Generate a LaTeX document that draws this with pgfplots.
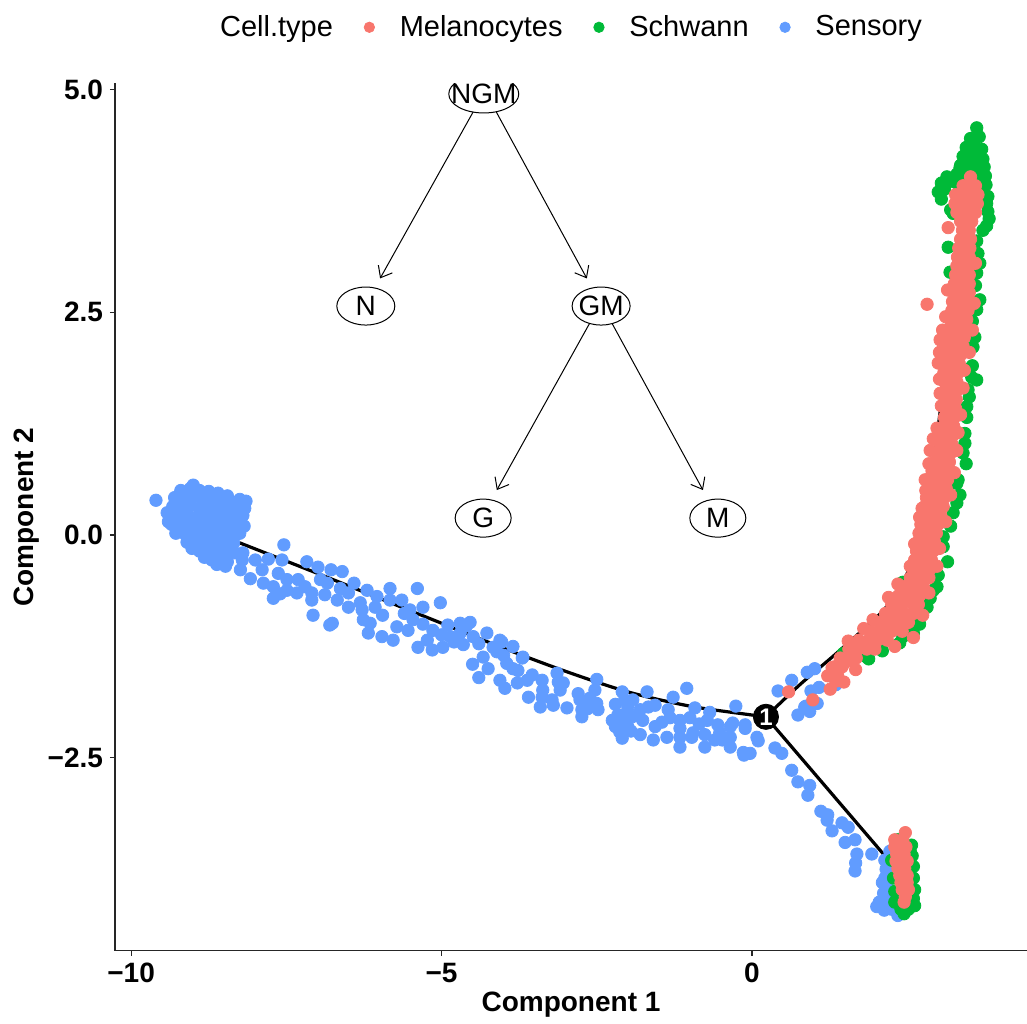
\documentclass[border=0pt]{standalone}
\usepackage{pgfplots}
\pgfplotsset{compat=1.18}
\usepackage{fontspec}
\setmainfont{Liberation Sans}
\usetikzlibrary{arrows.meta}
\definecolor{melcol}{HTML}{F8766D}
\definecolor{schcol}{HTML}{00BA38}
\definecolor{sencol}{HTML}{619CFF}

\pgfplotsset{
  cellpts/.style={only marks, mark=*, mark size=3.1pt, color=#1, mark options={line width=0.4pt}, forget plot},
  dotkey/.style={legend image code/.code={\path (-13pt,0pt) (13pt,0pt); \fill[#1] (0pt,0pt) circle (2.6pt);}},
}

\begin{document}
\begin{tikzpicture}
\path[use as bounding box] (-57.5pt,-36.15pt) rectangle (456pt,475.35pt);
\begin{axis}[
  scale only axis, width=456pt, height=433.7pt,
  xmin=-10.26, xmax=4.43, ymin=-4.665, ymax=5.07,
  axis x line*=bottom, axis y line*=left,
  axis line style={-, black!85, line width=0.6pt},
  tick align=outside, major tick length=2.5pt,
  tick style={black!85, line width=0.6pt},
  xtick={-10,-5,0}, xticklabels={−10,−5,0},
  ytick={-2.5,0,2.5,5}, yticklabels={−2.5,0.0,2.5,5.0},
  ticklabel style={font=\fontsize{14}{16}\selectfont\bfseries},
  xlabel={Component 1}, ylabel={Component 2},
  every axis x label/.style={at={(axis description cs:0.5,0)}, yshift=-27pt, anchor=center,
    font=\fontsize{14}{16}\selectfont\bfseries},
  every axis y label/.style={at={(axis description cs:0,0.5)}, xshift=-44pt, rotate=90, anchor=center,
    font=\fontsize{14}{16}\selectfont\bfseries},
  legend style={at={(axis description cs:0.5,1)}, anchor=center, yshift=28pt,
    draw=none, fill=none, legend columns=-1, font=\fontsize{14.5}{17}\selectfont,
    /tikz/every even column/.append style={column sep=3pt}},
]
\addlegendimage{empty legend}\addlegendentry{Cell.type}
\addlegendimage{dotkey=melcol}\addlegendentry{Melanocytes}
\addlegendimage{dotkey=schcol}\addlegendentry{Schwann}
\addlegendimage{dotkey=sencol}\addlegendentry{Sensory}

% principal graph of the trajectory
\addplot[black, line width=1.6pt, smooth, forget plot] coordinates {
  (-8.28,-0.08) (-7,-0.43) (-6,-0.71) (-5,-0.99) (-4,-1.27) (-3,-1.53)
  (-2,-1.76) (-1,-1.92) (0,-2.02) (0.225,-2.04)};
\addplot[black, line width=1.6pt, smooth, forget plot] coordinates {
  (0.225,-2.04) (0.77,-1.68) (1.47,-1.26) (2.22,-0.76) (2.67,-0.15)
  (2.88,0.6) (3.05,1.5) (3.2,2.5) (3.35,3.4) (3.45,3.85)};
\addplot[black, line width=1.6pt, forget plot] coordinates {
  (0.225,-2.04) (2.19,-3.64)};

% Sensory
\addplot[cellpts=sencol] coordinates {
  (-9.2,0.5)(-9.05,0.52)(-8.9,0.5)(-8.75,0.49)(-8.6,0.47)(-8.45,0.44)
  (-9.3,0.42)(-9.15,0.41)(-9.0,0.42)(-8.85,0.4)(-8.7,0.41)(-8.55,0.39)(-8.4,0.38)(-8.25,0.4)
  (-9.33,0.32)(-9.2,0.31)(-9.05,0.33)(-8.9,0.3)(-8.75,0.31)(-8.6,0.29)(-8.45,0.3)(-8.3,0.31)(-8.17,0.3)
  (-9.38,0.22)(-9.25,0.21)(-9.1,0.23)(-8.95,0.2)(-8.8,0.22)(-8.65,0.2)(-8.5,0.21)(-8.35,0.2)(-8.2,0.22)
  (-9.35,0.12)(-9.2,0.11)(-9.05,0.13)(-8.9,0.1)(-8.75,0.12)(-8.6,0.11)(-8.45,0.1)(-8.3,0.12)(-8.18,0.1)
  (-9.28,0.02)(-9.13,0.01)(-9.0,0.03)(-8.85,0.0)(-8.7,0.02)(-8.55,0.01)(-8.4,0.0)(-8.25,0.02)
  (-9.1,-0.08)(-8.95,-0.07)(-8.8,-0.09)(-8.65,-0.08)(-8.5,-0.1)(-8.35,-0.09)
  (-8.9,-0.18)(-8.75,-0.17)(-8.6,-0.19)(-8.45,-0.18)(-8.33,-0.2)
  (-8.7,-0.28)(-8.55,-0.27)(-8.45,-0.3)(-8.62,-0.33)(-8.48,-0.35)
  (-9.0,0.56)(-8.15,0.38)(-9.6,0.39)(-9.42,0.25)(-9.4,0.15)(-9.02,-0.15)(-8.82,-0.25)
  (-8.2,-0.2)(-8.21,-0.28)(-8.24,-0.39)(-8.08,-0.49)(-8.0,-0.28)(-7.89,-0.39)(-7.87,-0.54)
  (-7.79,-0.27)(-7.71,-0.58)(-7.71,-0.71)(-7.57,-0.28)(-7.54,-0.11)(-7.63,-0.43)(-7.49,-0.5)
  (-7.49,-0.62)(-7.33,-0.65)(-7.31,-0.5)(-7.17,-0.3)(-7.09,-0.65)(-7.09,-0.73)(-7.07,-0.9)
  (-6.99,-0.36)(-6.84,-0.54)(-6.88,-0.67)(-6.76,-0.99)(-6.78,-0.39)(-6.68,-0.73)(-6.6,-0.41)
  (-6.63,-0.6)(-6.5,-0.81)(-6.41,-0.54)(-6.31,-0.76)(-6.28,-0.84)(-6.26,-0.95)(-6.18,-1.1)
  (-6.07,-0.81)(-6.04,-0.69)(-5.96,-1.14)(-5.83,-0.6)(-5.83,-0.73)(-5.78,-1.18)(-5.72,-1.03)
  (-5.64,-0.73)(-5.51,-0.84)(-5.46,-0.95)(-5.54,-1.07)(-5.39,-0.6)(-5.38,-1.26)(-5.3,-0.81)
  (-5.23,-1.18)(-5.15,-1.29)(-5.14,-1.07)(-5.02,-0.76)(-4.98,-1.26)(-4.9,-1.01)(-4.86,-1.14)
  (-4.7,-0.99)(-4.7,-1.1)(-4.65,-1.23)(-4.49,-1.14)(-4.27,-1.1)(-4.17,-1.26)(-4.06,-1.18)
  (-4.33,-1.37)(-4.11,-1.31)(-3.69,-1.37)(-4.54,-0.98)(-6.8,-1.01)(-6.15,-0.99)(-4.5,-1.45)
  (-4.25,-1.5)(-4.4,-1.6)(-7.6,-0.66)(-7.2,-0.58)(-6.95,-0.5)(-6.5,-0.65)(-6.2,-0.62)
  (-5.95,-0.9)(-5.6,-0.88)(-5.3,-1.0)(-5.0,-1.12)(-4.8,-1.2)(-4.6,-1.02)(-4.4,-1.22)
  (-4.0,-1.35)(-3.85,-1.5)(-3.85,-1.25)
  (-4.03,-1.2)(-4.06,-1.63)(-3.95,-1.44)(-3.98,-1.72)(-3.78,-1.66)(-3.7,-1.38)(-3.77,-1.52)
  (-3.6,-1.82)(-3.54,-1.57)(-3.38,-1.63)(-3.37,-1.74)(-3.38,-1.82)(-3.2,-1.91)(-3.14,-1.55)
  (-3.12,-1.65)(-3.09,-1.74)(-2.98,-1.94)(-2.77,-1.85)(-2.74,-1.96)(-2.74,-2.04)(-2.61,-1.83)
  (-2.53,-1.74)(-2.5,-1.62)(-2.5,-1.89)(-2.48,-1.96)(-2.09,-1.76)(-2.08,-2.02)(-2.09,-2.11)
  (-2.09,-2.22)(-2.09,-2.28)(-2.0,-1.93)(-1.93,-2.04)(-2.0,-2.15)(-1.92,-1.85)(-1.8,-2.24)
  (-1.76,-2.08)(-1.69,-1.76)(-1.67,-1.93)(-1.59,-2.3)(-1.56,-1.91)(-1.56,-2.15)(-1.37,-2.27)
  (-1.35,-1.96)(-1.32,-2.05)(-1.27,-1.82)(-1.16,-2.08)(-1.16,-2.17)(-1.16,-2.27)(-1.16,-2.38)
  (-1.05,-1.72)(-0.97,-2.27)(-0.95,-2.22)(-0.92,-1.94)(-0.76,-2.38)(-0.76,-2.24)(-0.72,-2.08)
  (-0.68,-1.99)(-0.55,-2.13)(-0.52,-2.22)(-0.48,-2.3)(-0.35,-2.38)(-0.35,-2.27)(-0.35,-2.15)
  (-0.31,-2.11)(-0.26,-1.92)(-0.11,-2.13)(-0.14,-2.44)(-0.03,-2.45)(0.08,-2.27)(-3.22,-1.85)
  (-3.04,-1.66)(-2.16,-2.02)(-2.13,-2.21)(-1.85,-2.02)(-1.8,-1.96)(-3.62,-1.63)(-3.41,-1.93)
  (-2.2,-1.9)(-2.25,-2.08)(-2.2,-2.15)(-1.95,-2.2)(-2.05,-1.85)(-2.8,-1.78)(-2.65,-1.95)
  (-1.45,-2.1)(-0.85,-2.12)(-0.6,-2.3)(-1.0,-2.05)
  (0.37,-2.39)(0.48,-2.45)(0.64,-2.64)(0.74,-2.77)(0.93,-2.81)(0.9,-2.92)(1.11,-3.1)
  (1.22,-3.14)(1.21,-3.2)(1.29,-3.32)(1.45,-3.23)(1.55,-3.28)(1.5,-3.45)(1.66,-3.42)
  (1.69,-3.58)(1.67,-3.68)(1.66,-3.77)(1.93,-3.58)(-0.11,-2.17)(0.1,-2.31)(-0.13,-2.47)
  (0.42,-1.75)(0.64,-1.63)(0.89,-1.54)(1.01,-1.5)(0.95,-1.75)(1.08,-1.71)(1.05,-1.89)
  (0.87,-1.92)(0.93,-1.98)(0.74,-2.02)(0.85,-1.93)(1.35,-1.52)(1.35,-1.68)
  (2.14,-3.65)(2.16,-3.75)(2.14,-3.85)(2.17,-3.95)(2.12,-4.02)(2.05,-4.12)(2.15,-4.15)
  (2.25,-4.2)(2.35,-4.27)(2.2,-4.08)(2.1,-3.9)(2.01,-4.17)(2.13,-4.21)(2.22,-3.55)
};

% Schwann
\addplot[cellpts=schcol] coordinates {
  (3.62,4.57)(3.52,4.45)(3.66,4.47)(3.45,4.35)(3.58,4.35)(3.7,4.33)(3.4,4.25)(3.52,4.25)
  (3.65,4.25)(3.72,4.22)(3.36,4.15)(3.48,4.15)(3.6,4.15)(3.74,4.13)(3.3,4.05)(3.45,4.05)
  (3.6,4.05)(3.76,4.03)(3.05,3.95)(3.2,3.97)(3.3,3.95)(3.65,3.95)(3.77,3.93)(3.0,3.85)
  (3.1,3.88)(3.72,3.85)(3.8,3.8)(3.05,3.77)(3.78,3.72)(3.2,3.65)(3.8,3.63)(3.82,3.55)
  (3.78,3.47)(3.72,3.42)(3.14,4.02)(3.35,4.12)(3.24,3.61)
  (3.64,3.16)(3.67,3.05)(3.62,2.94)(3.19,2.95)(3.16,3.23)(3.67,2.64)(3.62,2.53)(3.59,2.22)
  (3.56,2.11)(3.54,1.77)(3.62,1.74)(3.48,1.63)(3.46,1.44)(3.46,1.32)(3.43,1.14)(3.43,1.03)
  (3.4,0.92)(3.32,0.62)(3.3,0.36)(3.24,0.25)(3.3,0.58)(3.08,-0.13)(3.08,-0.02)(2.98,-0.58)
  (2.92,-0.62)(2.87,-0.71)(2.82,-0.81)(2.38,-1.21)(2.43,-1.14)(1.85,-1.37)(1.47,-1.33)
  (2.43,-0.53)(1.53,-1.35)(1.88,-1.39)(3.6,2.8)(3.62,3.3)(3.55,2.4)(3.55,1.9)(3.5,1.55)
  (3.45,0.8)(3.35,0.45)(3.2,0.1)(3.15,-0.3)(3.0,-0.45)(2.7,-1.0)(2.6,-1.1)(2.1,-1.3)
  (2.57,-3.48)(2.58,-3.6)(2.6,-3.72)(2.6,-3.85)(2.62,-3.98)(2.6,-4.08)(2.62,-4.16)
  (2.52,-4.2)(2.4,-4.2)(2.3,-4.12)(2.3,-4.0)(2.28,-3.85)(2.25,-3.65)(2.35,-3.42)
  (2.45,-4.25)(2.55,-3.55)
};

% Melanocytes
\addplot[cellpts=melcol] coordinates {
  (3.52,4.02)
  (3.4,3.92)(3.52,3.92)(3.6,3.92)
  (3.28,3.82)(3.4,3.82)(3.52,3.82)(3.64,3.82)
  (3.27,3.72)(3.38,3.72)(3.5,3.72)(3.63,3.72)
  (3.3,3.62)(3.42,3.62)(3.55,3.62)(3.6,3.62)
  (3.36,3.52)(3.46,3.52)(3.54,3.52)
  (3.39,3.42)(3.5,3.42)
  (3.36,3.32)(3.45,3.32)(3.52,3.32)
  (3.33,3.22)(3.43,3.22)(3.51,3.22)
  (3.31,3.12)(3.42,3.12)(3.5,3.12)
  (3.3,3.02)(3.4,3.02)(3.5,3.02)
  (3.28,2.92)(3.39,2.92)(3.5,2.92)
  (3.26,2.82)(3.38,2.82)(3.5,2.82)
  (3.25,2.72)(3.37,2.72)(3.5,2.72)
  (3.23,2.62)(3.36,2.62)(3.49,2.62)
  (3.22,2.52)(3.35,2.52)(3.48,2.52)
  (3.2,2.42)(3.33,2.42)(3.46,2.42)
  (3.18,2.32)(3.31,2.32)(3.44,2.32)
  (3.15,2.22)(3.28,2.22)(3.42,2.22)
  (3.12,2.12)(3.26,2.12)(3.4,2.12)
  (3.1,2.02)(3.23,2.02)(3.36,2.02)
  (3.08,1.92)(3.21,1.92)(3.34,1.92)
  (3.09,1.82)(3.2,1.82)(3.32,1.82)
  (3.1,1.72)(3.2,1.72)(3.3,1.72)
  (3.12,1.62)(3.21,1.62)(3.3,1.62)
  (3.13,1.52)(3.22,1.52)(3.29,1.52)
  (3.11,1.42)(3.2,1.42)(3.28,1.42)
  (3.1,1.32)(3.18,1.32)(3.26,1.32)
  (3.09,1.22)(3.17,1.22)(3.25,1.22)
  (3.07,1.12)(3.16,1.12)(3.24,1.12)
  (3.03,1.02)(3.13,1.02)(3.22,1.02)
  (2.98,0.92)(3.1,0.92)(3.2,0.92)
  (2.94,0.82)(3.06,0.82)(3.18,0.82)
  (2.9,0.72)(3.03,0.72)(3.16,0.72)
  (2.87,0.62)(3.0,0.62)(3.15,0.62)
  (2.84,0.52)(2.98,0.52)(3.13,0.52)
  (2.81,0.42)(2.95,0.42)(3.1,0.42)
  (2.78,0.32)(2.92,0.32)(3.08,0.32)
  (2.75,0.22)(2.89,0.22)(3.04,0.22)
  (2.72,0.12)(2.86,0.12)(3.0,0.12)
  (2.69,0.02)(2.83,0.02)(2.97,0.02)
  (2.67,-0.08)(2.8,-0.08)(2.94,-0.08)
  (2.65,-0.18)(2.78,-0.18)(2.92,-0.18)
  (2.62,-0.28)(2.75,-0.28)(2.89,-0.28)
  (2.6,-0.38)(2.73,-0.38)(2.87,-0.38)
  (2.55,-0.48)(2.7,-0.48)(2.85,-0.48)
  (2.45,-0.58)(2.6,-0.58)(2.76,-0.58)
  (2.36,-0.68)(2.52,-0.68)(2.7,-0.68)
  (2.25,-0.78)(2.42,-0.78)(2.6,-0.78)(2.68,-0.78)
  (2.15,-0.88)(2.3,-0.88)(2.45,-0.88)(2.6,-0.88)
  (2.05,-0.98)(2.2,-0.98)(2.35,-0.98)(2.52,-0.98)
  (1.92,-1.08)(2.08,-1.08)(2.25,-1.08)(2.42,-1.08)
  (1.72,-1.18)(1.88,-1.18)(2.02,-1.18)(2.18,-1.18)
  (1.56,-1.28)(1.7,-1.28)(1.85,-1.28)(1.98,-1.28)
  (1.42,-1.38)(1.55,-1.38)(1.68,-1.38)
  (1.32,-1.48)(1.45,-1.48)
  (1.22,-1.58)(1.38,-1.58)
  (3.16,3.45)(3.6,3.05)(3.15,2.75)(3.58,2.6)(3.12,2.45)(3.55,2.3)(3.07,2.3)(3.5,2.05)
  (3.02,2.05)(3.42,1.85)(3.02,1.75)(3.4,1.65)(3.05,1.45)(3.36,1.35)(2.98,1.2)(3.32,1.15)
  (2.92,1.08)(3.3,0.95)(2.85,0.8)(3.26,0.7)(2.8,0.5)(3.2,0.45)(2.7,0.2)(3.12,0.15)
  (2.62,-0.1)(3.02,-0.15)(2.55,-0.35)(2.98,-0.35)(2.35,-0.55)(2.85,-0.65)(2.2,-0.7)
  (2.75,-0.9)(1.95,-0.95)(2.6,-1.15)(1.8,-1.05)(2.3,-1.25)
  (2.82,2.59)(3.03,2.19)(3.0,1.93)(3.03,1.59)(2.87,0.95)(2.79,0.62)(2.74,0.3)
  (0.59,-1.76)(0.98,-1.85)(1.26,-1.73)(1.35,-1.64)(1.48,-1.65)(1.29,-1.49)(1.46,-1.46)
  (1.56,-1.41)(1.67,-1.51)(1.55,-1.19)(1.76,-1.21)
  (2.47,-3.34)(2.3,-3.42)(2.43,-3.42)(2.3,-3.5)(2.4,-3.5)(2.48,-3.5)(2.33,-3.58)(2.45,-3.58)
  (2.32,-3.66)(2.42,-3.66)(2.5,-3.66)(2.35,-3.74)(2.46,-3.74)(2.38,-3.82)(2.5,-3.82)
  (2.4,-3.9)(2.5,-3.9)(2.42,-3.98)(2.52,-3.98)(2.47,-4.06)(2.45,-4.12)
};

% branch point
\addplot[only marks, mark=*, mark size=6.3pt, black, forget plot,
  nodes near coords={1},
  every node near coord/.style={anchor=center, text=white, font=\fontsize{12}{12}\selectfont\bfseries}]
  coordinates {(0.225,-2.04)};

% lineage tree
\begin{scope}[line width=0.5pt]
  \draw (axis cs:-4.32,4.95) ellipse [x radius=17.5pt, y radius=9.5pt];
  \draw (axis cs:-6.22,2.57) ellipse [x radius=14.5pt, y radius=9.5pt];
  \draw (axis cs:-2.43,2.57) ellipse [x radius=14.5pt, y radius=9.5pt];
  \draw (axis cs:-4.33,0.19) ellipse [x radius=14pt, y radius=9.5pt];
  \draw (axis cs:-0.55,0.19) ellipse [x radius=14pt, y radius=9.5pt];
  \begin{scope}[font=\fontsize{14}{16}\selectfont]
    \node at (axis cs:-4.32,4.95) {NGM};
    \node at (axis cs:-6.22,2.57) {N};
    \node at (axis cs:-2.43,2.57) {GM};
    \node at (axis cs:-4.33,0.19) {G};
    \node at (axis cs:-0.55,0.19) {M};
  \end{scope}
  \begin{scope}[-{Straight Barb[length=5pt,width=8pt]}]
    \draw (axis cs:-4.49,4.75) -- (axis cs:-5.99,2.88);
    \draw (axis cs:-4.12,4.75) -- (axis cs:-2.66,2.88);
    \draw (axis cs:-2.62,2.37) -- (axis cs:-4.11,0.505);
    \draw (axis cs:-2.25,2.37) -- (axis cs:-0.79,0.505);
  \end{scope}
\end{scope}
\end{axis}
\end{tikzpicture}
\end{document}
